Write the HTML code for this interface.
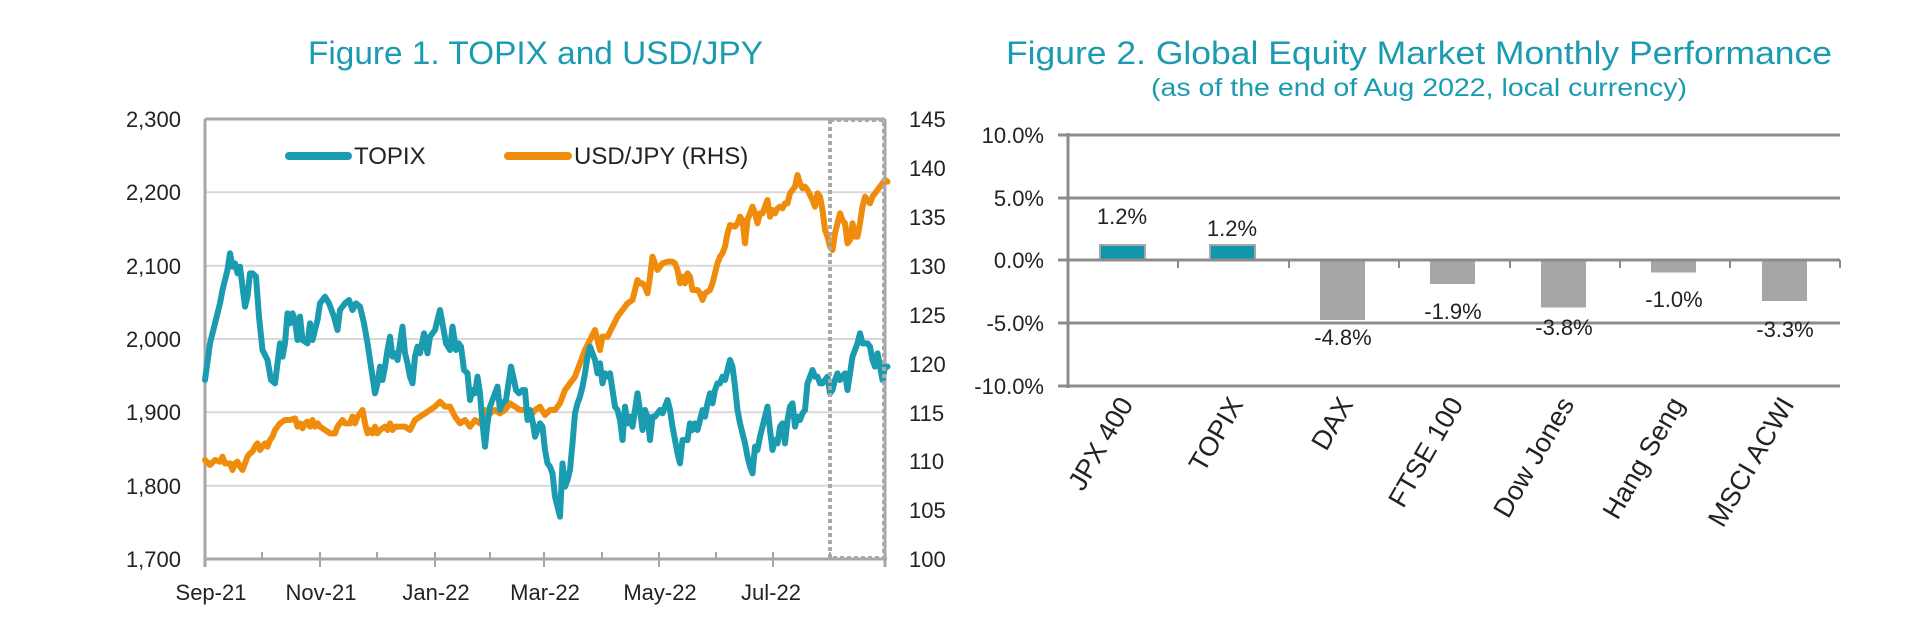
<!DOCTYPE html>
<html><head><meta charset="utf-8"><style>html,body{margin:0;padding:0;background:#fff}svg{display:block}</style></head>
<body>
<svg width="1920" height="624" xmlns="http://www.w3.org/2000/svg" font-family="Liberation Sans, sans-serif">
<rect width="1920" height="624" fill="#fff"/>
<!-- Titles -->
<text x="308" y="64" font-size="32" fill="#1a9bb0" textLength="455" lengthAdjust="spacingAndGlyphs">Figure 1. TOPIX and USD/JPY</text>
<text x="1006" y="64" font-size="32" fill="#1a9bb0" textLength="826" lengthAdjust="spacingAndGlyphs">Figure 2. Global Equity Market Monthly Performance</text>
<text x="1151" y="96" font-size="25" fill="#1a9bb0" textLength="536" lengthAdjust="spacingAndGlyphs">(as of the end of Aug 2022, local currency)</text>

<!-- Chart 1 grid -->
<g stroke="#d9d9d9" stroke-width="2">
<line x1="205" x2="885" y1="192.3" y2="192.3"/><line x1="205" x2="885" y1="265.7" y2="265.7"/>
<line x1="205" x2="885" y1="339" y2="339"/><line x1="205" x2="885" y1="412.3" y2="412.3"/>
<line x1="205" x2="885" y1="485.7" y2="485.7"/>
</g>
<g stroke="#a6a6a6" stroke-width="3" fill="none">
<line x1="205" x2="885" y1="119" y2="119"/>
<line x1="205" x2="205" y1="119" y2="567"/>
<line x1="885" x2="885" y1="119" y2="567"/>
<line x1="205" x2="887" y1="559" y2="559"/>
</g>
<g stroke="#a6a6a6" stroke-width="2">
<line x1="262" x2="262" y1="552" y2="559"/><line x1="320" x2="320" y1="552" y2="567"/>
<line x1="377" x2="377" y1="552" y2="559"/><line x1="435" x2="435" y1="552" y2="567"/>
<line x1="490" x2="490" y1="552" y2="559"/><line x1="544" x2="544" y1="552" y2="567"/>
<line x1="602" x2="602" y1="552" y2="559"/><line x1="659" x2="659" y1="552" y2="567"/>
<line x1="716" x2="716" y1="552" y2="559"/><line x1="773" x2="773" y1="552" y2="567"/>
<line x1="830" x2="830" y1="552" y2="559"/>
</g>
<g font-size="22" fill="#222" text-anchor="end">
<text x="181" y="127">2,300</text><text x="181" y="200">2,200</text><text x="181" y="274">2,100</text>
<text x="181" y="347">2,000</text><text x="181" y="420">1,900</text><text x="181" y="494">1,800</text><text x="181" y="567">1,700</text>
</g>
<g font-size="22" fill="#222">
<text x="909" y="127">145</text><text x="909" y="176">140</text><text x="909" y="225">135</text>
<text x="909" y="274">130</text><text x="909" y="323">125</text><text x="909" y="372">120</text>
<text x="909" y="421">115</text><text x="909" y="469">110</text><text x="909" y="518">105</text><text x="909" y="567">100</text>
</g>
<g font-size="22" fill="#222" text-anchor="middle">
<text x="211" y="600">Sep-21</text><text x="321" y="600">Nov-21</text><text x="436" y="600">Jan-22</text>
<text x="545" y="600">Mar-22</text><text x="660" y="600">May-22</text><text x="771" y="600">Jul-22</text>
</g>
<!-- legend -->
<line x1="289" x2="348" y1="156" y2="156" stroke="#1b9bb0" stroke-width="8" stroke-linecap="round"/>
<text x="354" y="164" font-size="24" fill="#222">TOPIX</text>
<line x1="508" x2="568" y1="156" y2="156" stroke="#f08c0c" stroke-width="8" stroke-linecap="round"/>
<text x="574" y="164" font-size="24" fill="#222">USD/JPY (RHS)</text>

<g transform="translate(140,90) scale(0.5,0.33333)" fill="none" stroke-linejoin="round" stroke-linecap="round">
<polyline vector-effect="non-scaling-stroke" stroke="#f08c0c" stroke-width="6" points="130,1110 140,1125 150,1110 160,1115 165,1100 170,1120 180,1120 185,1140 190,1120 195,1115 200,1130 205,1140 210,1120 215,1100 220,1090 225,1085 230,1070 235,1060 240,1080 245,1070 250,1060 255,1070 260,1050 265,1040 270,1020 280,1000 290,990 300,990 310,985 315,1010 320,1000 325,1015 330,1000 335,995 340,1010 345,990 350,1010 355,1000 360,1010 370,1020 380,1030 390,1030 395,1010 400,1000 405,990 410,1000 420,1000 425,980 430,1000 435,980 445,960 450,1000 455,1030 460,1020 465,1030 470,1010 475,1030 480,1020 490,1010 495,1020 500,1000 505,1020 510,1010 520,1010 530,1010 540,1020 550,990 560,980 570,970 580,960 590,950 600,935 610,950 620,950 630,980 640,1000 650,990 660,1010 670,990 680,1000 690,960 700,970 710,960 720,970 730,960 740,940 750,950 760,960 770,960 780,980 790,960 800,950 810,975 820,960 830,960 840,940 850,900 860,880 870,860 880,820 890,780 900,750 910,720 920,780 925,740 935,740 945,710 955,680 965,660 975,640 985,630 990,600 995,570 1000,580 1005,580 1010,590 1015,610 1020,560 1025,500 1030,520 1035,540 1045,520 1055,515 1065,515 1070,520 1075,540 1080,580 1085,560 1090,580 1095,550 1100,560 1105,600 1115,600 1120,610 1125,630 1130,610 1140,600 1145,580 1150,550 1155,520 1160,500 1165,490 1170,470 1175,430 1180,405 1190,410 1195,400 1200,380 1205,390 1210,460 1215,390 1220,370 1225,350 1230,370 1235,400 1240,370 1245,370 1250,350 1255,330 1260,380 1265,360 1270,370 1275,355 1280,350 1285,355 1290,340 1295,340 1300,310 1305,300 1310,290 1315,255 1320,280 1325,295 1330,290 1335,300 1340,315 1345,330 1350,350 1355,310 1360,320 1365,360 1370,420 1375,440 1380,470 1385,480 1390,430 1395,400 1400,370 1405,390 1410,400 1415,460 1420,450 1425,400 1430,440 1435,440 1440,400 1445,350 1450,320 1455,330 1460,340 1465,320 1470,310 1475,300 1480,290 1490,270 1495,275"/>
<polyline vector-effect="non-scaling-stroke" stroke="#1b9bb0" stroke-width="6" points="130,870 140,760 150,700 160,640 165,600 170,570 175,540 180,490 185,530 190,520 195,550 200,530 205,590 210,650 215,620 220,550 225,550 232,560 238,680 245,780 255,810 262,870 270,880 275,820 280,760 285,800 290,760 295,670 300,700 305,670 310,690 315,750 320,680 325,750 335,760 340,700 345,750 355,690 360,640 370,620 378,640 388,680 395,720 400,660 410,640 418,630 425,660 432,640 440,650 448,700 455,760 463,840 470,910 475,880 480,830 485,870 490,830 495,780 500,740 505,800 510,790 515,810 520,760 525,710 530,790 535,820 540,860 545,880 550,800 555,770 560,790 568,730 575,790 580,740 590,720 595,690 600,660 605,700 612,760 620,780 625,710 632,780 637,760 642,770 648,840 655,850 660,930 665,900 670,910 675,860 680,910 685,1000 690,1070 695,1000 700,950 705,930 710,910 715,890 720,960 725,940 732,930 738,870 742,830 748,870 752,900 758,910 765,900 770,900 775,990 780,960 786,1000 790,1040 795,1020 800,1000 805,1010 810,1080 815,1120 820,1130 825,1150 830,1220 835,1250 840,1280 845,1120 850,1190 855,1170 860,1140 865,1060 870,970 875,940 880,920 885,890 890,850 895,800 900,770 905,790 910,810 915,850 920,820 925,880 930,850 935,860 940,850 945,900 950,950 955,960 960,990 965,1050 970,950 975,1000 980,980 985,1010 990,960 995,910 1000,960 1005,1020 1010,960 1015,980 1020,1050 1025,980 1030,980 1035,970 1040,960 1045,970 1050,950 1055,930 1060,960 1065,1010 1070,1050 1075,1090 1080,1120 1085,1050 1090,1050 1095,1050 1100,1000 1105,1020 1110,1000 1115,1020 1120,990 1125,960 1130,980 1135,940 1140,910 1145,940 1150,900 1155,880 1160,880 1165,860 1170,870 1175,840 1180,810 1185,830 1190,890 1195,960 1200,1000 1205,1030 1210,1060 1215,1100 1220,1130 1225,1150 1230,1070 1235,1080 1240,1040 1245,1010 1250,980 1255,950 1260,1020 1265,1080 1270,1050 1275,1060 1280,1010 1285,1000 1290,1060 1295,990 1300,950 1305,940 1310,1010 1315,980 1320,990 1325,970 1330,960 1335,880 1340,860 1345,840 1350,860 1355,860 1360,880 1365,880 1370,870 1375,860 1380,910 1385,900 1390,870 1395,850 1400,870 1405,860 1410,850 1415,900 1420,850 1425,800 1430,780 1435,760 1440,730 1445,760 1450,760 1455,760 1460,770 1465,810 1470,830 1475,790 1480,830 1485,870 1490,830 1495,830"/>
</g>
<rect x="830" y="120" width="54" height="438" fill="none" stroke="#a9a9a9" stroke-width="4" stroke-dasharray="4,3"/>

<!-- Chart 2 -->
<g stroke="#8c8c8c" stroke-width="3">
<line x1="1058" x2="1840" y1="135" y2="135"/><line x1="1058" x2="1840" y1="198" y2="198"/>
<line x1="1058" x2="1840" y1="323" y2="323"/><line x1="1058" x2="1840" y1="386" y2="386"/>
</g>
<g fill="#a6a6a6">
<rect x="1320" y="260" width="45" height="60"/>
<rect x="1430" y="260" width="45" height="24"/>
<rect x="1541" y="260" width="45" height="47.5"/>
<rect x="1651" y="260" width="45" height="12.5"/>
<rect x="1762" y="260" width="45" height="41"/>
</g>
<g fill="#1296ac" stroke="#a6a6a6" stroke-width="2">
<rect x="1100" y="245" width="45" height="15"/>
<rect x="1210" y="245" width="45" height="15"/>
</g>
<g stroke="#8c8c8c" stroke-width="3">
<line x1="1058" x2="1840" y1="260" y2="260"/>
<line x1="1068" x2="1068" y1="133" y2="388"/>
</g>
<g stroke="#8c8c8c" stroke-width="2">
<line x1="1178" x2="1178" y1="260" y2="268"/><line x1="1289" x2="1289" y1="260" y2="268"/>
<line x1="1399" x2="1399" y1="260" y2="268"/><line x1="1510" x2="1510" y1="260" y2="268"/>
<line x1="1620" x2="1620" y1="260" y2="268"/><line x1="1730" x2="1730" y1="260" y2="268"/>
<line x1="1840" x2="1840" y1="260" y2="268"/>
</g>
<g font-size="22" fill="#222" text-anchor="end">
<text x="1044" y="143">10.0%</text><text x="1044" y="206">5.0%</text><text x="1044" y="268">0.0%</text>
<text x="1044" y="331">-5.0%</text><text x="1044" y="394">-10.0%</text>
</g>
<g font-size="22" fill="#222" text-anchor="middle">
<text x="1122" y="224">1.2%</text><text x="1232" y="236">1.2%</text>
<text x="1343" y="345">-4.8%</text><text x="1453" y="319">-1.9%</text><text x="1564" y="335">-3.8%</text>
<text x="1674" y="307">-1.0%</text><text x="1785" y="337">-3.3%</text>
</g>
<g font-size="27" fill="#222" text-anchor="end">
<text transform="translate(1134,404) rotate(-60)">JPX 400</text>
<text transform="translate(1244,404) rotate(-60)">TOPIX</text>
<text transform="translate(1354,404) rotate(-60)">DAX</text>
<text transform="translate(1464,404) rotate(-60)">FTSE 100</text>
<text transform="translate(1575,404) rotate(-60)">Dow Jones</text>
<text transform="translate(1685,404) rotate(-60)">Hang Seng</text>
<text transform="translate(1795,404) rotate(-60)">MSCI ACWI</text>
</g>
</svg>
</body></html>
